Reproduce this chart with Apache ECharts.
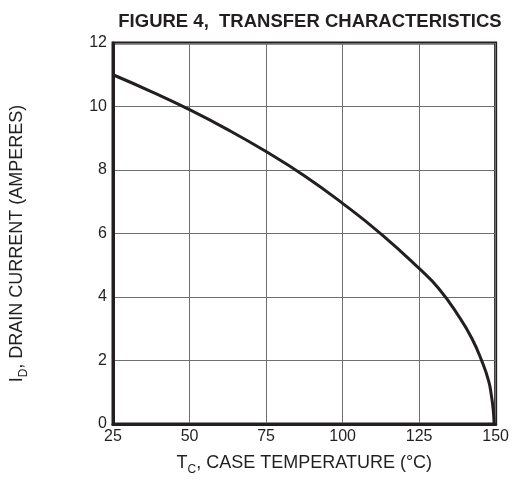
<!DOCTYPE html>
<html>
<head>
<meta charset="utf-8">
<script src="https://cdn.jsdelivr.net/npm/echarts@6/dist/echarts.min.js"></script>
<style>
  html, body { margin: 0; padding: 0; background: #fff; }
  #chart { width: 512px; height: 481px; }
</style>
</head>
<body>
<div id="chart"></div>
<script>
// Case temperature (°C) and the matching maximum drain current (A)
const caseTemp = [25, 37.5, 50, 62.5, 75, 87.5, 100, 112.9, 125, 131.4, 137.9, 142.2, 145.5, 147.7, 148.6, 149.2, 149.5];
const drainCurrent = [11.0, 10.47, 9.9, 9.27, 8.58, 7.82, 6.95, 5.96, 4.9, 4.27, 3.4, 2.7, 1.98, 1.36, 0.9, 0.45, 0];

const xTicks = [25, 50, 75, 100, 125, 150];
const yTicks = [0, 2, 4, 6, 8, 10, 12];

const FONT = '"Liberation Sans", Arial, sans-serif';
const INK = '#231f20';

const chart = echarts.init(document.getElementById('chart'), null, { renderer: 'canvas' });

chart.setOption({
  backgroundColor: '#ffffff',
  animation: false,
  title: {
    text: 'FIGURE 4,  TRANSFER CHARACTERISTICS',
    left: 305,
    top: 7,
    textAlign: 'center',
    textStyle: { fontFamily: FONT, fontWeight: 'bold', fontSize: 18.5, color: INK }
  },
  grid: {
    left: 113, right: 15, top: 43, bottom: 54,
    show: true, borderColor: INK, borderWidth: 3, backgroundColor: 'transparent'
  },
  xAxis: {
    type: 'value',
    min: xTicks[0],
    max: xTicks[xTicks.length - 1],
    interval: 25,
    name: '{t|T}{s|C}{t|, CASE TEMPERATURE (°C)}',
    nameLocation: 'middle',
    nameGap: 27,
    nameTextStyle: {
      rich: {
        t: { fontFamily: FONT, fontSize: 18, color: INK },
        s: { fontFamily: FONT, fontSize: 12, color: INK, padding: [13, 0, 0, 0] }
      }
    },
    axisLine: { lineStyle: { color: INK, width: 3 } },
    axisTick: { show: false },
    axisLabel: { margin: 5, fontFamily: FONT, fontSize: 16, color: INK },
    splitLine: { show: true, lineStyle: { color: '#6d6e71', width: 1 } }
  },
  yAxis: {
    type: 'value',
    min: yTicks[0],
    max: yTicks[yTicks.length - 1],
    interval: 2,
    name: '{t|I}{s|D}{t|, DRAIN CURRENT (AMPERES)}',
    nameLocation: 'middle',
    nameGap: 83,
    nameRotate: 90,
    nameTextStyle: {
      padding: [0, 20, 0, 0],
      rich: {
        t: { fontFamily: FONT, fontSize: 18, color: INK },
        s: { fontFamily: FONT, fontSize: 12, color: INK, padding: [13, 0, 0, 0] }
      }
    },
    axisLine: { show: true, lineStyle: { color: INK, width: 3 } },
    axisTick: { show: false },
    axisLabel: { margin: 6, fontFamily: FONT, fontSize: 16, color: INK },
    splitLine: { show: true, lineStyle: { color: '#6d6e71', width: 1 } }
  },
  series: [{
    type: 'line',
    data: caseTemp.map((t, i) => [t, drainCurrent[i]]),
    smooth: 0.5,
    showSymbol: false,
    lineStyle: { color: INK, width: 3 },
    clip: false
  }]
});
</script>
</body>
</html>
